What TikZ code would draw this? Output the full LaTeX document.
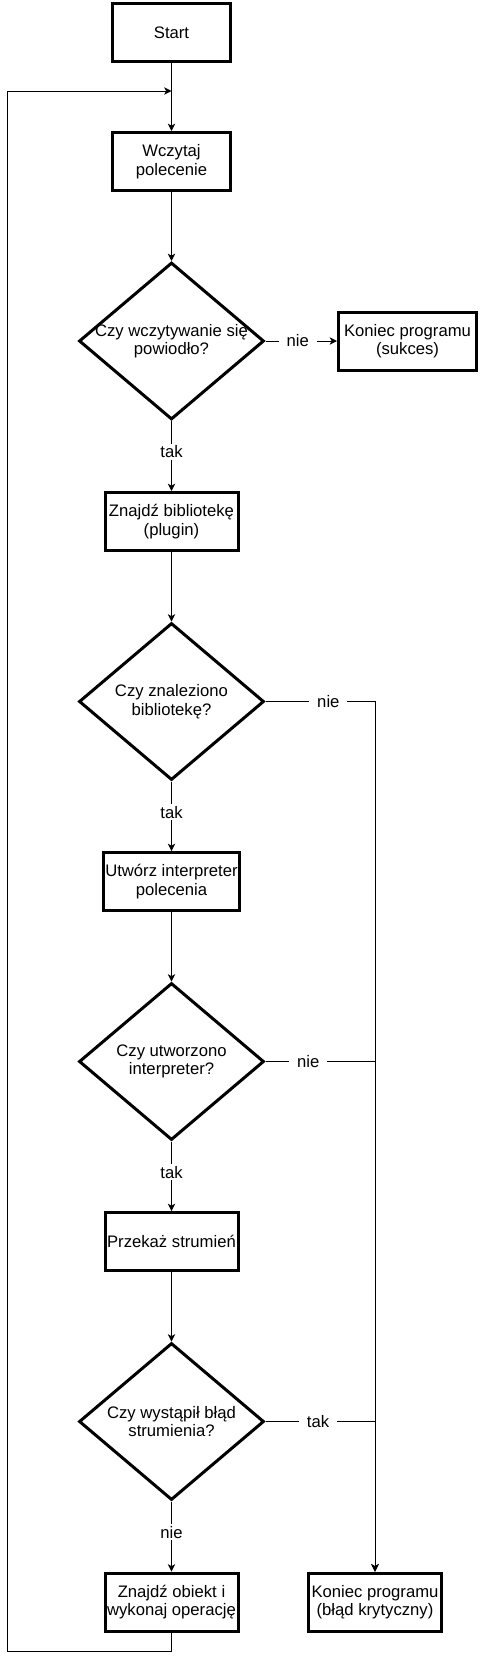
\documentclass[tikz,border=0pt]{standalone}
\usepackage{fontspec}
\setmainfont{Liberation Sans}
\usetikzlibrary{arrows.meta,shapes.geometric}

\begin{document}
\begin{tikzpicture}[x=0.75pt,y=-0.75pt,>={Stealth[length=5.5pt,width=5.5pt,inset=1.5pt]},
 every node/.style={font=\fontsize{12.5}{13.8}\selectfont},
 blok/.style={draw,line width=2.25pt,minimum width=99.75pt,minimum height=43.5pt,align=center,inner sep=1pt},
 decyzja/.style={draw,diamond,aspect=1.18,line width=2.25pt,minimum width=138.75pt,minimum height=117.75pt,inner xsep=-6pt,inner ysep=0pt,align=center},
 ar/.style={->,line width=0.75pt},
 lbl/.style={fill=white,inner xsep=6pt,inner ysep=1.5pt}]
 \useasboundingbox (0,0) rectangle (479,1660);
 % glowna kolumna
 \node[blok,minimum width=88.5pt] (start) at (171.5,32.5) {Start};
 \node[blok,minimum width=88.5pt] (wczytaj) at (171.5,161.5) {Wczytaj\\polecenie};
 \node[decyzja] (czywcz) at (171.5,341) {Czy wczytywanie się\\powiodło?};
 \node[blok,minimum width=103.5pt] (sukces) at (407.5,341) {Koniec programu\\(sukces)};
 \node[blok] (znajdz) at (171.5,521.5) {Znajdź bibliotekę\\(plugin)};
 \node[decyzja] (czyzn) at (171.5,701.5) {Czy znaleziono\\bibliotekę?};
 \node[blok] (utworz) at (171.5,881.5) {Utwórz interpreter\\polecenia};
 \node[decyzja] (czyut) at (171.5,1061.5) {Czy utworzono\\interpreter?};
 \node[blok] (przekaz) at (171.5,1241.5) {Przekaż strumień};
 \node[decyzja] (czybl) at (171.5,1421.5) {Czy wystąpił błąd\\strumienia?};
 \node[blok] (obiekt) at (171.5,1602) {Znajdź obiekt i\\wykonaj operację};
 \node[blok] (krytyczny) at (375,1602) {Koniec programu\\(błąd krytyczny)};
 \coordinate (join) at (171.5,91);
 \coordinate (petla) at (7.5,1651);
 % polaczenia
 \draw[ar] (start) -- (wczytaj);
 \draw[ar] (wczytaj) -- (czywcz);
 \draw[ar] (czywcz) -- node[lbl,pos=0.45]{nie} (sukces);
 \draw[ar] (czywcz) -- node[lbl,pos=0.44]{tak} (znajdz);
 \draw[ar] (znajdz) -- (czyzn);
 \draw[ar] (czyzn) -- node[lbl,pos=0.44]{tak} (utworz);
 \draw[ar] (utworz) -- (czyut);
 \draw[ar] (czyut) -- node[lbl,pos=0.44]{tak} (przekaz);
 \draw[ar] (przekaz) -- (czybl);
 \draw[ar] (czybl) -- node[lbl,pos=0.44]{nie} (obiekt);
 \draw[ar] (czyzn.east) -| node[lbl,pos=0.287]{nie} (krytyczny);
 \draw[ar] (czyut.east) -| node[lbl,pos=0.195]{nie} (krytyczny);
 \draw[ar] (czybl.east) -| node[lbl,pos=0.24]{tak} (krytyczny);
 \draw[ar] (obiekt) |- (petla) |- (join);
\end{tikzpicture}
\end{document}
